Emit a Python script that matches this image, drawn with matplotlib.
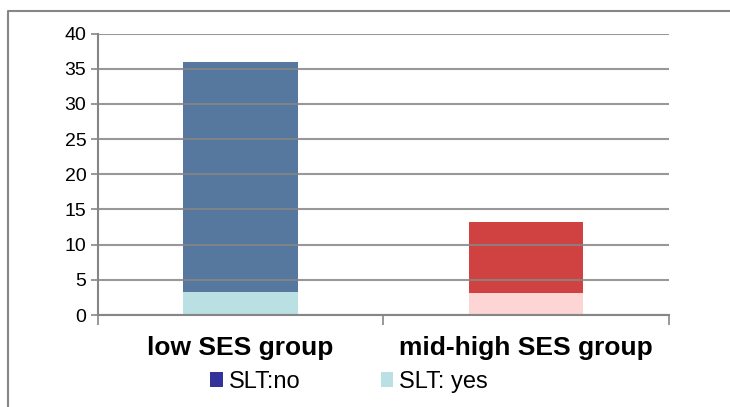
import matplotlib
matplotlib.use("Agg")
import matplotlib.pyplot as plt
from matplotlib.patches import Patch
from matplotlib.lines import Line2D

categories = ["low SES group", "mid-high SES group"]
slt_yes = [3.2, 3.1]
slt_no_total = [36.0, 13.2]
slt_no = [t - y for t, y in zip(slt_no_total, slt_yes)]
yticks = [0, 5, 10, 15, 20, 25, 30, 35, 40]

top_colors = ["#56779E", "#D04242"]
bottom_colors = ["#BAE0E3", "#FCD5D4"]
legend_labels = ["SLT:no", "SLT: yes"]
legend_colors = ["#333399", "#BAE0E3"]

plt.rcParams['font.family'] = ['Liberation Sans', 'DejaVu Sans']

fig = plt.figure(figsize=(7.30, 4.07), dpi=100)
W, H = 730, 407
ax = fig.add_axes([97.5 / W, 1 - 315 / H, (669 - 97.5) / W, (315 - 33.5) / H])

x = [0.5, 1.5]
ax.bar(x, slt_yes, width=0.4, color=bottom_colors, zorder=1)
ax.bar(x, slt_no, bottom=slt_yes, width=0.4, color=top_colors, zorder=1)

ax.set_xlim(0, 2)
ax.set_ylim(0, 40)
ax.set_yticks(yticks)
ax.set_yticklabels([str(v) for v in yticks], fontsize=14)
ax.set_xticks([0, 1, 2])
ax.set_xticklabels([])
ax.tick_params(axis='y', length=5, width=1.2, color='#868686', pad=3)
ax.tick_params(axis='x', length=7, width=1.2, color='#868686')
for v in yticks:
    ax.axhline(v, color='#868686', lw=1.5, alpha=0.85, zorder=2)
for s in ['top', 'right']:
    ax.spines[s].set_visible(False)
for s in ['left', 'bottom']:
    ax.spines[s].set_color('#868686')
    ax.spines[s].set_linewidth(1.5)
    ax.spines[s].set_zorder(3)

for xi, c in zip(x, categories):
    ax.text(xi, -4.7, c, ha='center', va='center', fontsize=19, fontweight='bold',
            transform=ax.transData)

handles = [Patch(facecolor=c, edgecolor='none') for c in legend_colors]
fig.legend(handles, legend_labels, loc='center', bbox_to_anchor=(349 / W, 1 - 382 / H),
           ncol=2, frameon=False, fontsize=17, handlelength=0.52, handleheight=0.58,
           handletextpad=0.25, columnspacing=3.4)

fy = 1 - 11 / H
fx = 7.5 / W
fig.lines.append(Line2D([fx, fx, 1.0], [0.0, fy, fy], transform=fig.transFigure,
                        color='#868686', lw=1.5))

fig.savefig("out.png", dpi=100)
